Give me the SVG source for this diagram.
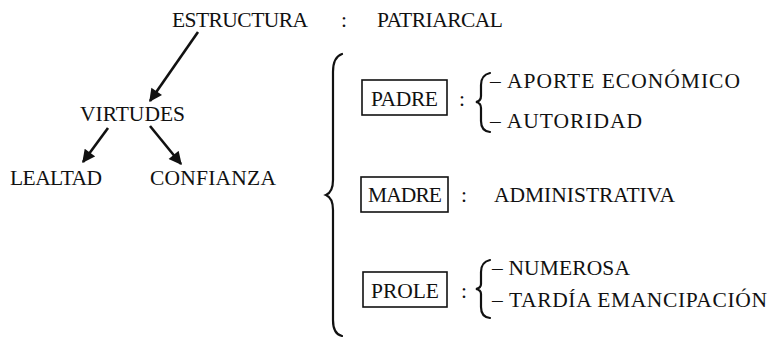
<svg xmlns="http://www.w3.org/2000/svg" width="773" height="342" viewBox="0 0 773 342">
  <style>
    text { font-family: "Liberation Serif", "Times New Roman", serif; font-size: 21.5px; fill: #111; }
    .box { fill: none; stroke: #111; stroke-width: 1.6; }
    .brace { fill: none; stroke: #111; stroke-width: 2.2; stroke-linecap: round; }
    .arrow { fill: none; stroke: #111; stroke-width: 2.6; marker-end: url(#head); }
  </style>
  <defs>
    <marker id="head" viewBox="0 0 10 10" refX="9" refY="5" markerWidth="5.6" markerHeight="5" markerUnits="strokeWidth" orient="auto">
      <path d="M0,0 L10,5 L0,10 Z" fill="#111"/>
    </marker>
  </defs>
  <rect width="773" height="342" fill="#fff"/>

  <!-- left tree -->
  <g id="estructura"><text x="172" y="27" textLength="136" lengthAdjust="spacing">ESTRUCTURA</text></g>
  <g id="sep-top"><text x="341" y="27">:</text></g>
  <g id="patriarcal"><text x="377" y="27" textLength="126" lengthAdjust="spacing">PATRIARCAL</text></g>
  <g id="virtudes"><text x="80" y="121" textLength="105" lengthAdjust="spacing">VIRTUDES</text></g>
  <g id="lealtad"><text x="10" y="185" textLength="92" lengthAdjust="spacing">LEALTAD</text></g>
  <g id="confianza"><text x="150" y="185" textLength="126" lengthAdjust="spacing">CONFIANZA</text></g>

  <g id="connectors">
    <line class="arrow" x1="198" y1="32" x2="150" y2="101"/>
    <line class="arrow" x1="108" y1="128" x2="83" y2="162"/>
    <line class="arrow" x1="150" y1="126" x2="181" y2="164"/>
  </g>

  <!-- big brace -->
  <g id="brace-main">
    <path class="brace" d="M342 54 Q333 57 333 72 L333 180 Q333 192 326 195 Q333 198 333 210 L333 320 Q333 334 342 336"/>
  </g>

  <!-- padre -->
  <g id="padre">
    <rect class="box" x="362" y="80" width="85" height="35"/>
    <text x="371" y="106" textLength="67" lengthAdjust="spacing">PADRE</text>
    <text x="459" y="106">:</text>
    <path class="brace" d="M490 73 Q481 75 481 85 L481 96 Q481 101 476 102 Q481 103 481 108 L481 121 Q481 131 490 132"/>
    <text x="490" y="88" textLength="250" lengthAdjust="spacing">– APORTE ECONÓMICO</text>
    <text x="490" y="128" textLength="152" lengthAdjust="spacing">– AUTORIDAD</text>
  </g>

  <!-- madre -->
  <g id="madre">
    <rect class="box" x="361" y="177" width="87" height="35"/>
    <text x="368" y="202" textLength="74" lengthAdjust="spacing">MADRE</text>
    <text x="461" y="202">:</text>
    <text x="494" y="202" textLength="181" lengthAdjust="spacing">ADMINISTRATIVA</text>
  </g>

  <!-- prole -->
  <g id="prole">
    <rect class="box" x="363" y="272" width="84" height="35"/>
    <text x="371" y="298" textLength="68" lengthAdjust="spacing">PROLE</text>
    <text x="461" y="298">:</text>
    <path class="brace" d="M490 260 Q481 262 481 272 L481 284 Q481 288 476 289 Q481 290 481 294 L481 307 Q481 317 490 318"/>
    <text x="492" y="275" textLength="138" lengthAdjust="spacing">– NUMEROSA</text>
    <text x="492" y="307" textLength="275" lengthAdjust="spacing">– TARDÍA EMANCIPACIÓN</text>
  </g>
</svg>
